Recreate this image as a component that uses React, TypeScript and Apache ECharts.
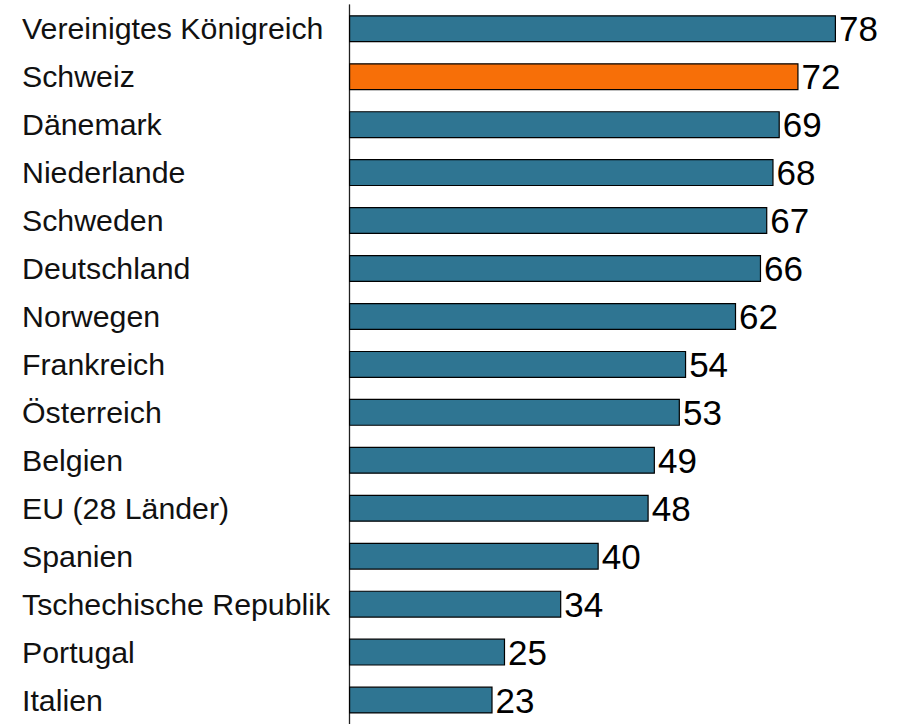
import React, { useEffect, useRef } from "react";
import * as echarts from "echarts";

const categories = [
  "Vereinigtes Königreich",
  "Schweiz",
  "Dänemark",
  "Niederlande",
  "Schweden",
  "Deutschland",
  "Norwegen",
  "Frankreich",
  "Österreich",
  "Belgien",
  "EU (28 Länder)",
  "Spanien",
  "Tschechische Republik",
  "Portugal",
  "Italien",
];
const values = [78, 72, 69, 68, 67, 66, 62, 54, 53, 49, 48, 40, 34, 25, 23];
const highlight = "Schweiz";

const TEAL = "#2f7592";
const ORANGE = "#f76f08";

export default function App() {
  const ref = useRef<HTMLDivElement>(null);
  useEffect(() => {
    if (!ref.current) return;
    const chart = echarts.init(ref.current, undefined, { renderer: "svg" });
    const cats = [...categories].reverse();
    const vals = [...values].reverse();
    chart.setOption({
      animation: false,
      grid: { left: 349, top: 4.8, height: 726.5, right: 63 },
      xAxis: {
        type: "value",
        min: 0,
        max: 78,
        show: false,
      },
      yAxis: {
        type: "category",
        data: cats,
        axisLine: { show: true, lineStyle: { color: "#222", width: 1.3 } },
        axisTick: { show: false },
        axisLabel: {
          align: "left",
          margin: 327,
          fontFamily: "Liberation Sans, Arial, sans-serif",
          fontSize: 30.3,
          color: "#111",
        },
      },
      series: [
        {
          type: "bar",
          barWidth: 27,
          data: vals.map((v, i) => ({
            value: v,
            itemStyle: { color: cats[i] === highlight ? ORANGE : TEAL },
          })),
          itemStyle: { borderColor: "#000", borderWidth: 1.2 },
          label: {
            show: true,
            position: "right",
            distance: 3,
            fontFamily: "Liberation Sans, Arial, sans-serif",
            fontSize: 35,
            color: "#000",
          },
        },
      ],
    });
    return () => chart.dispose();
  }, []);
  return (
    <div
      ref={ref}
      style={{ position: "fixed", left: 0, top: 0, width: 899, height: 724, background: "#fff" }}
    />
  );
}
